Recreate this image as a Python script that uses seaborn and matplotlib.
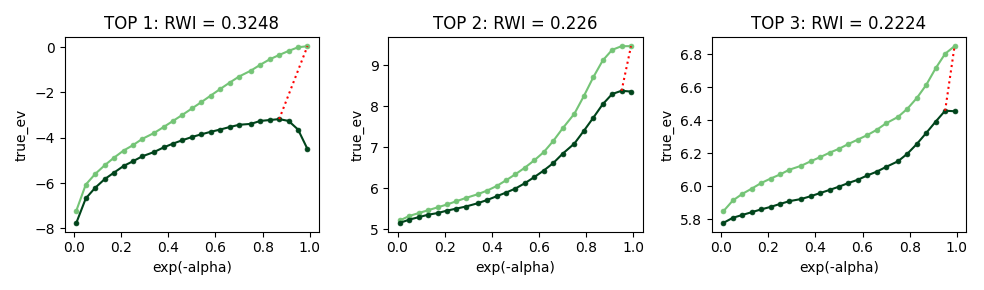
import numpy as np
import matplotlib
matplotlib.use("Agg")
import matplotlib.pyplot as plt
import seaborn as sns

# x grid (exp(-alpha))
exp_alpha = [0.01, 0.05, 0.09, 0.13, 0.17, 0.21, 0.25, 0.29, 0.34, 0.38, 0.42, 0.46, 0.50,
             0.54, 0.58, 0.62, 0.66, 0.70, 0.75, 0.79, 0.83, 0.87, 0.91, 0.95, 0.99]
x_ticks = [0.0, 0.2, 0.4, 0.6, 0.8, 1.0]

titles = ["TOP 1: RWI = 0.3248", "TOP 2: RWI = 0.226", "TOP 3: RWI = 0.2224"]

# upper curves (light green)
top1_upper = [-7.22, -6.07, -5.60, -5.22, -4.88, -4.57, -4.33, -4.05, -3.79, -3.53, -3.26, -2.99, -2.71,
              -2.43, -2.14, -1.85, -1.57, -1.30, -1.04, -0.78, -0.54, -0.35, -0.17, -0.01, 0.04]
top2_upper = [5.21, 5.32, 5.39, 5.46, 5.53, 5.60, 5.68, 5.76, 5.85, 5.94, 6.05, 6.19, 6.34,
              6.50, 6.68, 6.88, 7.15, 7.46, 7.82, 8.25, 8.71, 9.12, 9.38, 9.47, 9.47]
top3_upper = [5.848, 5.913, 5.953, 5.985, 6.019, 6.046, 6.071, 6.100, 6.124, 6.151, 6.176, 6.203, 6.227,
              6.256, 6.283, 6.310, 6.342, 6.382, 6.420, 6.470, 6.535, 6.615, 6.716, 6.804, 6.850]

# lower curves (dark green)
top1_lower = [-7.76, -6.68, -6.21, -5.83, -5.54, -5.25, -5.04, -4.82, -4.63, -4.43, -4.26, -4.11, -3.97,
              -3.85, -3.74, -3.64, -3.53, -3.43, -3.39, -3.26, -3.22, -3.18, -3.26, -3.64, -4.50]
top2_lower = [5.15, 5.23, 5.29, 5.35, 5.39, 5.45, 5.50, 5.55, 5.63, 5.71, 5.80, 5.89, 5.99,
              6.12, 6.27, 6.43, 6.61, 6.84, 7.09, 7.40, 7.72, 8.05, 8.30, 8.38, 8.36]
top3_lower = [5.777, 5.808, 5.825, 5.842, 5.859, 5.874, 5.892, 5.909, 5.922, 5.939, 5.958, 5.977, 5.997,
              6.019, 6.039, 6.065, 6.088, 6.117, 6.151, 6.197, 6.256, 6.323, 6.392, 6.458, 6.455]

uppers = [top1_upper, top2_upper, top3_upper]
lowers = [top1_lower, top2_lower, top3_lower]

light = "#74c476"
dark = "#00441b"

fig, axes = plt.subplots(1, 3, figsize=(9.84, 2.9), dpi=100)

for ax, title, up, low in zip(axes, titles, uppers, lowers):
    sns.lineplot(x=exp_alpha, y=up, ax=ax, color=light, marker=".", markersize=7,
                 markeredgecolor=light, markeredgewidth=0.5)
    sns.lineplot(x=exp_alpha, y=low, ax=ax, color=dark, marker=".", markersize=7,
                 markeredgecolor=dark, markeredgewidth=0.5)
    # dotted connector: peak of lower curve to end of upper curve
    i = int(np.argmax(low))
    ax.plot([exp_alpha[i], exp_alpha[-1]], [low[i], up[-1]], color="red", linestyle=":")
    ax.set_xticks(x_ticks)
    ax.set_title(title)
    ax.set_xlabel("exp(-alpha)")
    ax.set_ylabel("true_ev")

plt.tight_layout()
plt.savefig("out.png")
